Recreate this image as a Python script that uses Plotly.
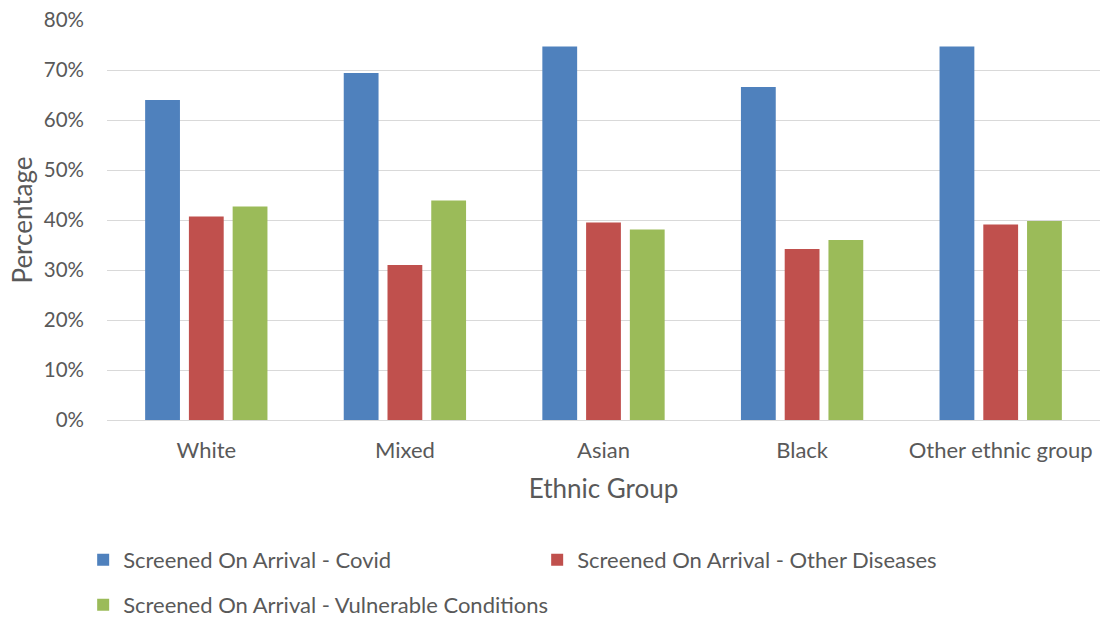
import plotly.graph_objects as go

# Share of arrivals screened, by ethnic group (percent)
groups = ["White", "Mixed", "Asian", "Black", "Other ethnic group"]
covid = [64.0, 69.4, 74.7, 66.6, 74.7]
other_diseases = [40.7, 31.0, 39.5, 34.2, 39.1]
vulnerable = [42.7, 43.9, 38.1, 36.0, 39.8]

series_names = [
    "Screened On Arrival - Covid",
    "Screened On Arrival - Other Diseases",
    "Screened On Arrival - Vulnerable Conditions",
]
colors = ["#4f81bd", "#c0504d", "#9bbb59"]

FONT = "Lato"
TEXT = "#595959"

fig = go.Figure()
for name, vals, col, leg in zip(series_names, [covid, other_diseases, vulnerable],
                                colors, ["legend", "legend", "legend2"]):
    fig.add_trace(go.Bar(
        x=groups, y=vals, name=name, legend=leg,
        marker=dict(color=col, line=dict(width=0)),
    ))

legend_common = dict(
    orientation="h", xanchor="left", yanchor="middle",
    font=dict(family=FONT, size=22, color=TEXT),
    bgcolor="rgba(0,0,0,0)", borderwidth=0,
)

fig.update_layout(
    width=1100, height=617,
    margin=dict(l=107, r=0, t=20, b=197, autoexpand=False),
    paper_bgcolor="white", plot_bgcolor="white",
    barmode="group", bargap=0.339, bargroupgap=0.2045,
    font=dict(family=FONT, size=20, color=TEXT),
    showlegend=True,
    legend=dict(x=-0.024, y=-0.35, entrywidth=409, entrywidthmode="pixels",
                **legend_common),
    legend2=dict(x=-0.024, y=-0.4625, **legend_common),
    xaxis=dict(
        showgrid=False, showline=False, zeroline=False,
        tickfont=dict(family=FONT, size=22, color=TEXT),
        ticklabelstandoff=15,
        title=dict(text="Ethnic Group", font=dict(family=FONT, size=26, color=TEXT),
                   standoff=17),
    ),
    yaxis=dict(
        range=[0, 80], dtick=10, ticksuffix="%",
        showgrid=True, gridcolor="#d9d9d9", gridwidth=1.3,
        zeroline=True, zerolinecolor="#d9d9d9", zerolinewidth=1.3,
        showline=False,
        tickfont=dict(family=FONT, size=20.5, color=TEXT),
        ticklabelstandoff=22,
        title=dict(text="Percentage", font=dict(family=FONT, size=26, color=TEXT),
                   standoff=3),
    ),
)

fig.write_html("out.html")
